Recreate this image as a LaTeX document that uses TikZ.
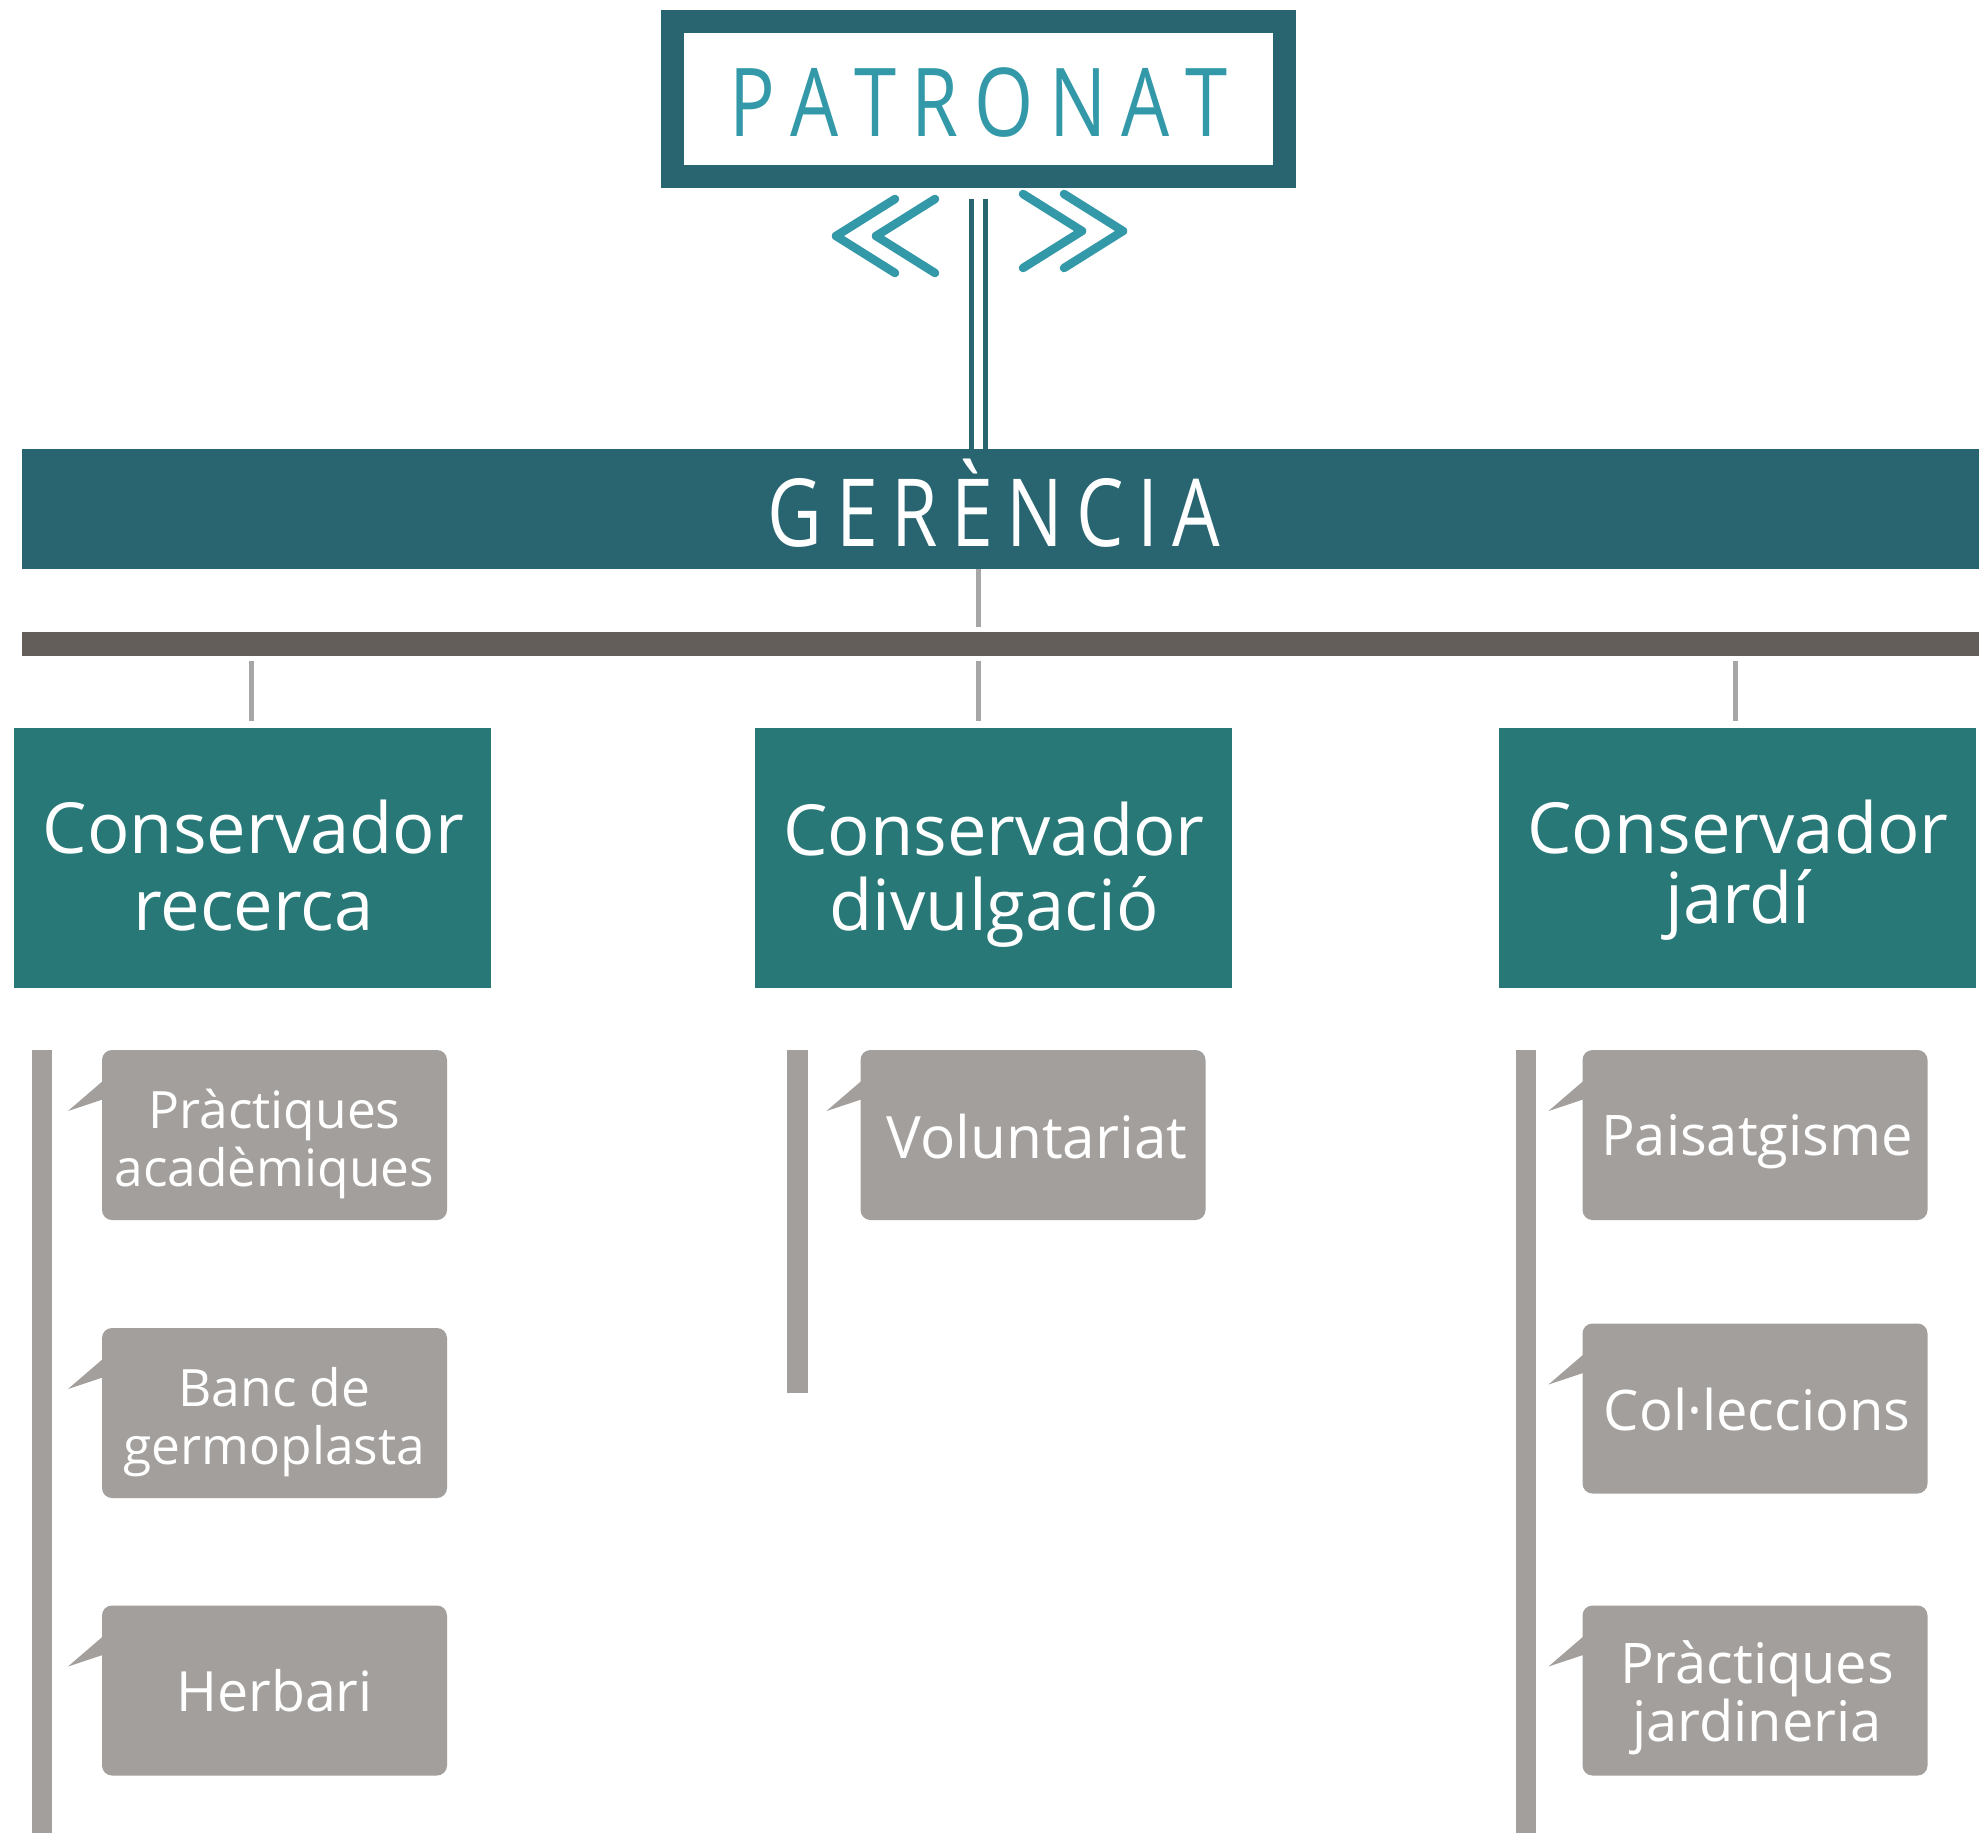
\documentclass[tikz,border=0pt]{standalone}
\usepackage{fontspec}
\setmainfont{Open Sans}
\newfontfamily\titlefont{Open Sans}[FakeStretch=0.8]
\usetikzlibrary{calc}
\definecolor{darkteal}{HTML}{286570}
\definecolor{boxteal}{HTML}{277877}
\definecolor{lightteal}{HTML}{3399A8}
\definecolor{barbrown}{HTML}{635E59}
\definecolor{subgray}{HTML}{A39F9C}
\definecolor{conngray}{HTML}{A6A6A6}
\begin{document}
\begin{tikzpicture}[x=1pt,y=-1pt,
  every node/.style={inner sep=0pt, outer sep=0pt},
  band/.style={rectangle, fill=darkteal, minimum width=1963pt, minimum height=120pt},
  consbox/.style={rectangle, fill=boxteal, minimum width=477pt, minimum height=260pt},
  subbox/.style={rectangle, fill=subgray, rounded corners=10pt, minimum width=345pt, minimum height=170pt},
  chev/.style={draw=lightteal, line width=8.5pt, line cap=round, line join=round},
  dline/.style={draw=darkteal, line width=5pt},
  conn/.style={draw=conngray, line width=5pt},
  ctext/.style={anchor=base, text=white, font=\fontsize{70.5}{70.5}\selectfont},
  stext/.style={anchor=base, text=white},
  ttext/.style={anchor=base, font=\titlefont\fontsize{95}{95}\selectfont}
]
\useasboundingbox (0,0) rectangle (1979,1833);
\fill[white] (0,0) rectangle (1979,1833);

% PATRONAT
\node[draw=darkteal, line width=23pt, fill=white, minimum width=612pt, minimum height=155pt] (patronat) at (978.5,99) {};
\node[ttext, text=lightteal] (patronat-t) at (978.5,137)
  {P\hspace{15.5pt}A\hspace{15.5pt}T\hspace{15.5pt}R\hspace{15.5pt}O\hspace{15.5pt}N\hspace{15.5pt}A\hspace{15.5pt}T};

% chevrons
\draw[chev] (895,199) -- (836,236) -- (895,273);
\draw[chev] (935,199) -- (876,236) -- (935,273);
\draw[chev] (1023,194) -- (1082,231) -- (1023,268);
\draw[chev] (1064,194) -- (1123,231) -- (1064,268);

% GERENCIA
\node[band] (gerencia) at (1003.5,509) {};
\node[ttext, text=white, font=\titlefont\fontsize{94}{94}\selectfont] (gerencia-t) at (994,546)
  {G\hspace{13.5pt}E\hspace{13.5pt}R\hspace{13.5pt}È\hspace{13.5pt}N\hspace{13.5pt}C\hspace{13.5pt}I\hspace{13.5pt}A};

% double line
\draw[dline] ($(patronat.south)+(-7,22.5)$) -- ($(patronat.south |- gerencia.north)+(-7,0)$);
\draw[dline] ($(patronat.south)+(7,22.5)$) -- ($(patronat.south |- gerencia.north)+(7,0)$);

% horizontal bar
\node[rectangle, fill=barbrown, minimum width=1963pt, minimum height=24pt] (hbar) at (1003.5,644) {};
\draw[conn] (gerencia.south -| patronat.south) -- ($(hbar.north -| patronat.south)+(0,-5)$);

% Conservador boxes
\node[consbox] (c1) at (252.5,858) {};
\node[consbox] (c2) at (993.5,858) {};
\node[consbox] (c3) at (1737,858) {};
\draw[conn] ($(hbar.south -| c1.north)+(-1.5,5)$) -- ($(c1.north)+(-1.5,-7)$);
\draw[conn] ($(hbar.south -| patronat.south)+(0,5)$) -- ($(c2.north -| patronat.south)+(0,-7)$);
\draw[conn] ($(hbar.south -| c3.north)+(-2,5)$) -- ($(c3.north)+(-2,-7)$);

\node[ctext] (c1-a) at (253.5,853) {Conservador};
\node[ctext] (c1-b) at (253.5,930) {recerca};
\node[ctext] (c2-a) at (994,855) {Conservador};
\node[ctext] (c2-b) at (994,930) {divulgació};
\node[ctext] (c3-a) at (1738,853) {Conservador};
\node[ctext] (c3-b) at (1738,923) {jardí};

% vertical bars
\fill[subgray] (32,1050) rectangle (52,1840);
\fill[subgray] (787,1050) rectangle (808,1393);
\fill[subgray] (1516,1050) rectangle (1536,1840);

% sub boxes
\node[subbox] (s11) at (274.5,1135) {};
\node[subbox] (s12) at (274.5,1413) {};
\node[subbox] (s13) at (274.5,1690.5) {};
\node[subbox] (s21) at (1033,1135) {};
\node[subbox] (s31) at (1755,1135) {};
\node[subbox] (s32) at (1755,1408.5) {};
\node[subbox] (s33) at (1755,1690.5) {};
\foreach \s in {s11,s12,s13,s21,s31,s32,s33}{
  \fill[subgray] ($(\s.north west)+(2,30)$) -- ++(-36,31) -- ($(\s.north west)+(2,49)$) -- cycle;
}

\node[stext, font=\fontsize{51.5}{51.5}\selectfont] (s11-a) at (274.5,1128) {Pràctiques};
\node[stext, font=\fontsize{51.5}{51.5}\selectfont] (s11-b) at (274.5,1186) {acadèmiques};
\node[stext, font=\fontsize{51.5}{51.5}\selectfont] (s12-a) at (274.5,1406) {Banc de};
\node[stext, font=\fontsize{51.5}{51.5}\selectfont] (s12-b) at (274.5,1464) {germoplasta};
\node[stext, font=\fontsize{55.5}{55.5}\selectfont] (s13-a) at (274.5,1711) {Herbari};
\node[stext, font=\fontsize{58.5}{58.5}\selectfont] (s21-a) at (1037,1158) {Voluntariat};
\node[stext, font=\fontsize{56}{56}\selectfont] (s31-a) at (1757,1155) {Paisatgisme};
\node[stext, font=\fontsize{56}{56}\selectfont] (s32-a) at (1757,1430) {Col·leccions};
\node[stext, font=\fontsize{56}{56}\selectfont] (s33-a) at (1757,1683) {Pràctiques};
\node[stext, font=\fontsize{56}{56}\selectfont] (s33-b) at (1757,1741) {jardineria};
\end{tikzpicture}
\end{document}
